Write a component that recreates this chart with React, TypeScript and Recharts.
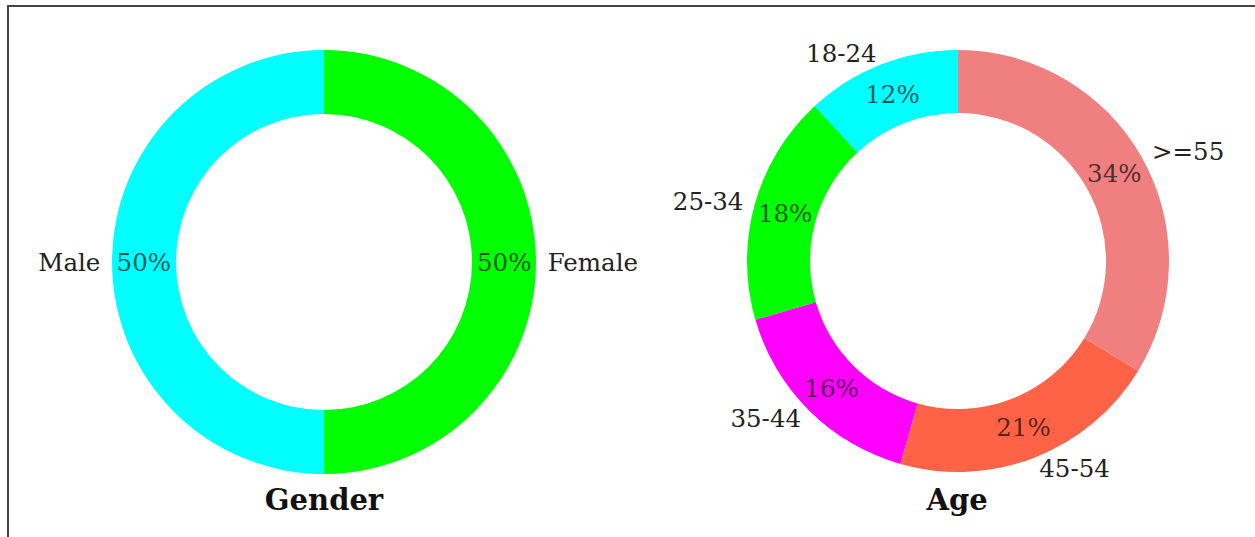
import { Cell, Pie, PieChart } from "recharts"

const genderNames = ['Male', 'Female']
const genderValues = [50, 50]
const genderColors = ['#00ffff', '#00ff00']

const ageNames = ['18-24', '25-34', '35-44', '45-54', '>=55']
const ageValues = [11.9, 17.6, 16.1, 20.7, 33.7]
const ageColors = ['#00ffff', '#00ff00', '#ff00ff', '#ff6347', '#f08080']

const titles = ['Gender', 'Age']

const RAD = Math.PI / 180
const FONT = '"DejaVu Serif", serif'

const renderLabel = (props: any) => {
    const { cx, cy, midAngle, outerRadius, percent, name } = props
    const cos = Math.cos(-midAngle * RAD)
    const sin = Math.sin(-midAngle * RAD)
    const lr = outerRadius * 1.055
    const pr = outerRadius * 0.85
    return (
        <g>
            <text
                x={cx + lr * cos}
                y={cy + lr * sin}
                textAnchor={cos < -0.001 ? 'end' : 'start'}
                dominantBaseline="central"
                fill="#222"
                fontSize={24.5}
                fontFamily={FONT}
            >
                {name}
            </text>
            <text
                x={cx + pr * cos}
                y={cy + pr * sin}
                textAnchor="middle"
                dominantBaseline="central"
                fill="#000"
                fillOpacity={0.68}
                fontSize={24.5}
                fontFamily={FONT}
            >
                {`${Math.round(percent * 100)}%`}
            </text>
        </g>
    )
}

export default function App() {
    const genderData = genderNames.map((name, i) => ({ name, value: genderValues[i] }))
    const ageData = ageNames.map((name, i) => ({ name, value: ageValues[i] }))

    return (
        <div style={{ position: 'absolute', left: 0, top: 0, width: 1255, height: 537, background: '#fff', overflow: 'hidden' }}>
            <div style={{ position: 'absolute', left: 7, top: 5, width: 1260, height: 540, borderLeft: '2px solid #444', borderTop: '2px solid #444' }} />
            <PieChart width={1255} height={537} margin={{ top: 0, right: 0, bottom: 0, left: 0 }} style={{ position: 'absolute', left: 0, top: 0 }}>
                <Pie
                    data={genderData}
                    dataKey="value"
                    nameKey="name"
                    cx={324}
                    cy={262}
                    innerRadius={148}
                    outerRadius={212}
                    startAngle={90}
                    endAngle={450}
                    stroke="none"
                    label={renderLabel}
                    labelLine={false}
                    isAnimationActive={false}
                >
                    {genderData.map((d, i) => <Cell key={d.name} fill={genderColors[i]} />)}
                </Pie>
                <Pie
                    data={ageData}
                    dataKey="value"
                    nameKey="name"
                    cx={958}
                    cy={261}
                    innerRadius={148}
                    outerRadius={211}
                    startAngle={90}
                    endAngle={450}
                    stroke="none"
                    label={renderLabel}
                    labelLine={false}
                    isAnimationActive={false}
                >
                    {ageData.map((d, i) => <Cell key={d.name} fill={ageColors[i]} />)}
                </Pie>
            </PieChart>
            {titles.map((t, i) => (
                <div
                    key={t}
                    style={{
                        position: 'absolute',
                        left: (i === 0 ? 324 : 957) - 150,
                        top: 482,
                        width: 300,
                        textAlign: 'center',
                        fontFamily: FONT,
                        fontWeight: 'bold',
                        fontSize: 29,
                        lineHeight: '36px',
                        color: '#111',
                    }}
                >
                    {t}
                </div>
            ))}
        </div>
    )
}
